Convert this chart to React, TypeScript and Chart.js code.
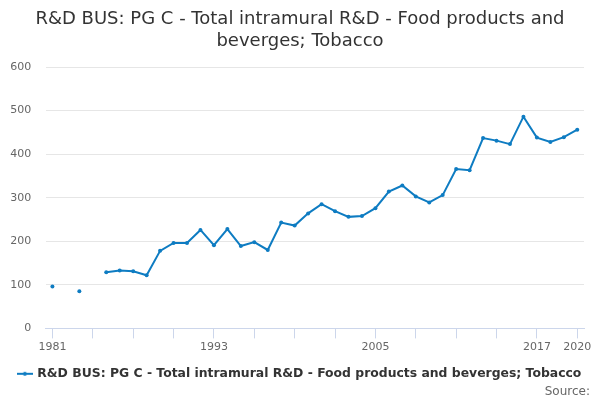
import React, { useRef, useEffect } from 'react';
import Chart from 'chart.js/auto';

const TITLE = ['R&D BUS: PG C - Total intramural R&D - Food products and', 'beverges; Tobacco'];
const SERIES_NAME = 'R&D BUS: PG C - Total intramural R&D - Food products and beverges; Tobacco';

const YEARS = [
  '1981', '1982', '1983', '1984', '1985', '1986', '1987', '1988', '1989', '1990',
  '1991', '1992', '1993', '1994', '1995', '1996', '1997', '1998', '1999', '2000',
  '2001', '2002', '2003', '2004', '2005', '2006', '2007', '2008', '2009', '2010',
  '2011', '2012', '2013', '2014', '2015', '2016', '2017', '2018', '2019', '2020',
];

const VALUES: (number | null)[] = [
  96, null, 85, null, 129, 133, 131, 122, 178, 196,
  196, 226, 191, 228, 189, 198, 180, 243, 236, 264,
  285, 269, 256, 258, 276, 314, 328, 303, 289, 306,
  366, 363, 437, 431, 423, 486, 438, 428, 439, 456,
];

const LABELED_YEARS = ['1981', '1993', '2005', '2017', '2020'];

const LINE_COLOR = '#0e7cc2';
const FONT = 'DejaVu Sans, sans-serif';

// little line + dot marker for the legend
const makeLegendMarker = () => {
  const c = document.createElement('canvas');
  c.width = 16;
  c.height = 8;
  const g = c.getContext('2d')!;
  g.strokeStyle = LINE_COLOR;
  g.lineWidth = 2;
  g.beginPath();
  g.moveTo(0, 4);
  g.lineTo(16, 4);
  g.stroke();
  g.fillStyle = LINE_COLOR;
  g.beginPath();
  g.arc(8, 4, 2, 0, Math.PI * 2);
  g.fill();
  return c;
};

const App: React.FC = () => {
  const canvasRef = useRef<HTMLCanvasElement>(null);
  const chartRef = useRef<Chart | null>(null);

  useEffect(() => {
    document.body.style.margin = '0';
    if (!canvasRef.current) return;
    if (chartRef.current) chartRef.current.destroy();

    chartRef.current = new Chart(canvasRef.current, {
      type: 'line',
      data: {
        labels: YEARS,
        datasets: [{
          label: SERIES_NAME,
          data: VALUES,
          borderColor: LINE_COLOR,
          backgroundColor: LINE_COLOR,
          borderWidth: 2,
          pointRadius: 2,
          pointHoverRadius: 3,
          pointBorderWidth: 0,
          spanGaps: false,
          tension: 0,
        }],
      },
      options: {
        responsive: false,
        animation: false,
        layout: { padding: { left: 8, right: 8, top: 0, bottom: 10 } },
        scales: {
          x: {
            offset: true,
            afterFit: (scale: any) => {
              // keep the plot's right edge where the reference has it
              scale.paddingLeft = 0;
              scale.paddingRight = 16;
            },
            grid: {
              drawOnChartArea: false,
              drawTicks: true,
              tickLength: 10,
              color: (ctx: any) => (ctx.index % 3 === 0 ? '#ccd6eb' : 'rgba(0,0,0,0)'),
            },
            border: { color: '#ccd6eb', width: 1 },
            ticks: {
              autoSkip: false,
              maxRotation: 0,
              padding: 2,
              color: '#666666',
              font: { family: FONT, size: 11 },
              callback: (_v: any, i: number) => (LABELED_YEARS.includes(YEARS[i]) ? YEARS[i] : ''),
            },
          },
          y: {
            min: 0,
            max: 600,
            grid: { color: '#e6e6e6', drawTicks: false },
            border: { display: false },
            afterFit: (scale: any) => {
              scale.width = 37.7;
            },
            ticks: {
              stepSize: 100,
              padding: 14.5,
              color: '#666666',
              font: { family: FONT, size: 11 },
            },
          },
        },
        plugins: {
          title: {
            display: true,
            text: TITLE,
            color: '#333333',
            font: { family: FONT, size: 18, weight: 'normal', lineHeight: 1.25 },
            padding: { top: 8, bottom: 14 },
          },
          legend: {
            position: 'bottom',
            labels: {
              usePointStyle: true,
              pointStyle: makeLegendMarker() as any,
              color: '#333333',
              font: { family: FONT, size: 12.4, weight: 'bold' },
              padding: 12,
            },
          },
          tooltip: { enabled: false },
        },
      },
    });

    return () => {
      if (chartRef.current) {
        chartRef.current.destroy();
        chartRef.current = null;
      }
    };
  }, []);

  return (
    <div style={{ position: 'relative', width: 600, height: 400 }}>
      <canvas ref={canvasRef} width={600} height={400} style={{ display: 'block' }} />
      <div
        style={{
          position: 'absolute',
          right: 10,
          top: 383,
          fontFamily: FONT,
          fontSize: 12,
          lineHeight: '16px',
          color: '#666666',
        }}
      >
        Source:
      </div>
    </div>
  );
};

export default App;
